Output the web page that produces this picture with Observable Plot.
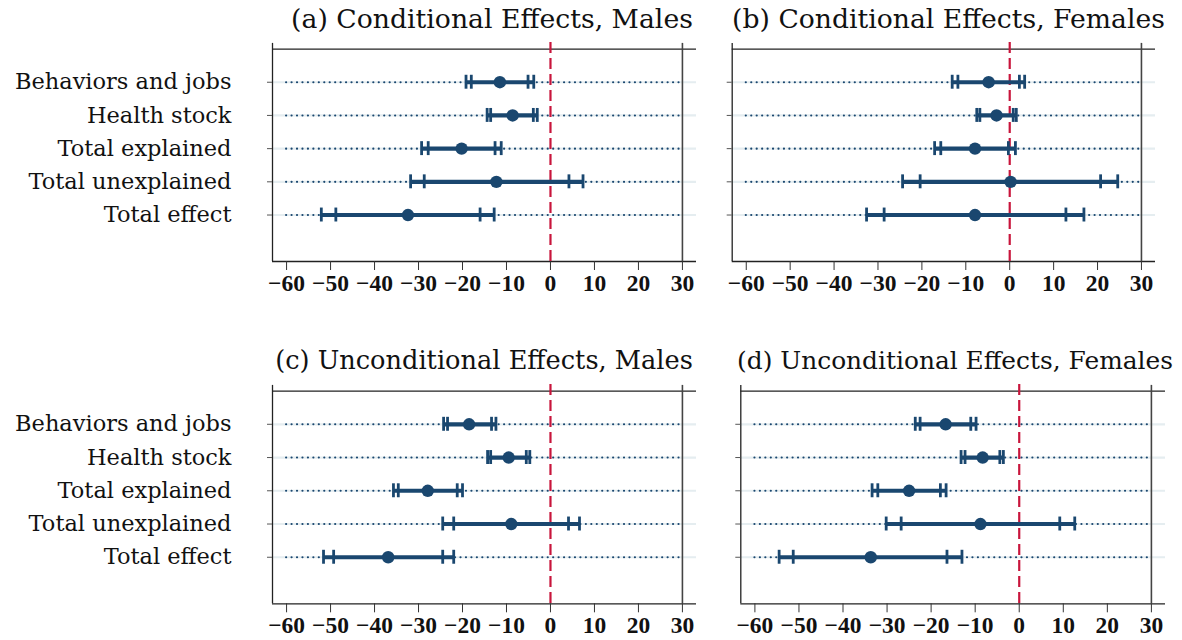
<!DOCTYPE html>
<html><head><meta charset="utf-8">
<script src="https://cdn.jsdelivr.net/npm/d3@7"></script>
<script src="https://cdn.jsdelivr.net/npm/@observablehq/plot@0.6"></script>
<style>
html,body{margin:0;padding:0;background:#fff;}
#root{position:relative;width:1182px;height:640px;overflow:hidden;background:#fff;}
#root svg{position:absolute;}
</style></head><body><div id="root"></div>
<script>
const categories = ["Behaviors and jobs", "Health stock", "Total explained", "Total unexplained", "Total effect"];
const xTicks = [-60, -50, -40, -30, -20, -10, 0, 10, 20, 30];
const titles = ["(a) Conditional Effects, Males", "(b) Conditional Effects, Females",
                "(c) Unconditional Effects, Males", "(d) Unconditional Effects, Females"];

// (a) Conditional, Males
const condMaleEst  = [-11.5, -8.6, -20.2, -12.3, -32.4];
const condMaleLo95 = [-19.2, -14.4, -29.3, -31.8, -52.1];
const condMaleLo90 = [-18.0, -13.6, -27.8, -28.7, -48.8];
const condMaleHi90 = [-5.1, -3.9, -12.6, 4.2, -16.0];
const condMaleHi95 = [-3.8, -3.0, -11.2, 7.4, -12.8];
// (b) Conditional, Females
const condFemEst  = [-4.8, -3.0, -7.9, 0.2, -7.9];
const condFemLo95 = [-13.1, -7.5, -17.1, -24.4, -32.6];
const condFemLo90 = [-11.8, -6.8, -15.7, -20.4, -28.6];
const condFemHi90 = [2.2, 0.8, -0.3, 20.7, 12.8];
const condFemHi95 = [3.4, 1.5, 1.3, 24.6, 16.9];
// (c) Unconditional, Males
const uncMaleEst  = [-18.5, -9.5, -27.9, -8.9, -36.9];
const uncMaleLo95 = [-24.3, -14.3, -35.7, -24.5, -51.6];
const uncMaleLo90 = [-23.4, -13.6, -34.6, -22.0, -49.3];
const uncMaleHi90 = [-13.4, -5.5, -21.2, 4.1, -24.5];
const uncMaleHi95 = [-12.4, -4.7, -20.0, 6.6, -22.0];
// (d) Unconditional, Females
const uncFemEst  = [-16.7, -8.3, -25.0, -8.8, -33.7];
const uncFemLo95 = [-23.6, -13.2, -33.4, -30.2, -54.5];
const uncFemLo90 = [-22.5, -12.3, -32.1, -26.8, -51.3];
const uncFemHi90 = [-11.0, -4.4, -17.9, 9.2, -16.4];
const uncFemHi95 = [-9.8, -3.6, -16.6, 12.6, -13.0];

const NAVY = "#1a476f", RED = "#c8153c", GRID = "#e5edf0", FRAME = "#222";
const xDom = [-63.2, 33.2];
const yDom = [-0.2, 6.4];

const panels = [
  {title: titles[0], est: condMaleEst, lo95: condMaleLo95, lo90: condMaleLo90, hi90: condMaleHi90, hi95: condMaleHi95,
   left: 0, top: 0, width: 700, height: 300, ml: 272, mr: 4, mt: 41.9, mb: 39, labels: true, tx: 492, ty: 28.3, tw: 402},
  {title: titles[1], est: condFemEst, lo95: condFemLo95, lo90: condFemLo90, hi90: condFemHi90, hi95: condFemHi95,
   left: 700, top: 0, width: 482, height: 300, ml: 31.7, mr: 27, mt: 41.9, mb: 39, labels: false, tx: 948.5, ty: 28.3, tw: 433},
  {title: titles[2], est: uncMaleEst, lo95: uncMaleLo95, lo90: uncMaleLo90, hi90: uncMaleHi90, hi95: uncMaleHi95,
   left: 0, top: 341.7, width: 700, height: 298.3, ml: 272, mr: 4, mt: 41.9, mb: 37, labels: true, tx: 484, ty: 369, tw: 418},
  {title: titles[3], est: uncFemEst, lo95: uncFemLo95, lo90: uncFemLo90, hi90: uncFemHi90, hi95: uncFemHi95,
   left: 700, top: 341.7, width: 482, height: 298.3, ml: 40.3, mr: 17, mt: 41.9, mb: 37, labels: false, tx: 955, ty: 369, tw: 436}
];

const root = document.getElementById("root");

for (const p of panels) {
  const rows = categories.map((c, i) => ({cat: c, row: i + 1, est: p.est[i], lo95: p.lo95[i], lo90: p.lo90[i], hi90: p.hi90[i], hi95: p.hi95[i]}));
  const caps = rows.flatMap(r => [r.lo95, r.lo90, r.hi90, r.hi95].map(v => ({row: r.row, v})));
  const svg = Plot.plot({
    width: p.width, height: p.height,
    marginLeft: p.ml, marginRight: p.mr, marginTop: p.mt, marginBottom: p.mb,
    x: {domain: xDom, axis: null},
    y: {domain: yDom, reverse: true, axis: null},
    style: {background: "transparent", overflow: "visible"},
    marks: [
      Plot.ruleY(rows, {y: "row", stroke: GRID, strokeWidth: 2.2}),
      Plot.ruleY(rows, {y: "row", x1: xTicks[0], x2: xTicks[xTicks.length - 1], stroke: NAVY, strokeWidth: 2.1, strokeDasharray: "0.1 5.35", strokeLinecap: "round"}),
      Plot.ruleY([yDom[0] + 0.2], {stroke: FRAME, strokeWidth: 1.3}),
      Plot.ruleY([yDom[1]], {stroke: FRAME, strokeWidth: 1.3}),
      Plot.ruleX([xDom[0]], {y1: yDom[0] + 0.03, y2: yDom[1], stroke: FRAME, strokeWidth: 1.3}),
      Plot.ruleX([xTicks[xTicks.length - 1]], {y1: yDom[0] + 0.03, y2: yDom[1], stroke: "#444", strokeWidth: 1.6}),
      Plot.ruleX([0], {y1: yDom[0], y2: yDom[1], stroke: RED, strokeWidth: 2.2, strokeDasharray: "11 5"}),
      Plot.ruleY(rows, {y: "row", x1: "lo95", x2: "hi95", stroke: NAVY, strokeWidth: 4.2}),
      Plot.ruleX(caps, {x: "v", y1: d => d.row - 0.21, y2: d => d.row + 0.21, stroke: NAVY, strokeWidth: 2.8}),
      Plot.dot(rows, {x: "est", y: "row", r: 6.2, fill: NAVY, stroke: "none"}),
      Plot.axisX({ticks: xTicks, anchor: "bottom", tickSize: 9, tickPadding: 4, label: null,
                  fontSize: 23.5, fontFamily: "Liberation Serif", fontWeight: "bold", stroke: "#333", fill: "#111"}),
      Plot.axisY({ticks: categories.map((c, i) => i + 1), anchor: "left", tickSize: 5, tickPadding: 36, label: null,
                  tickFormat: i => p.labels ? categories[i - 1] : "",
                  fontSize: 22.5, fontFamily: "DejaVu Serif", stroke: "#555", fill: "#111"})
    ]
  });
  svg.style.left = p.left + "px";
  svg.style.top = p.top + "px";
  root.appendChild(svg);
}

// titles: font size fitted so each title's natural width matches the reference width
const tsvg = d3.select(root).append("svg")
  .attr("width", 1182).attr("height", 640)
  .style("left", "0px").style("top", "0px").style("pointer-events", "none");
const base = 25;
tsvg.selectAll("text").data(panels).join("text")
  .attr("x", d => d.tx).attr("y", d => d.ty)
  .attr("text-anchor", "middle")
  .attr("font-family", "DejaVu Serif")
  .attr("font-size", base)
  .attr("fill", "#111")
  .text(d => d.title)
  .each(function(d) {
    const w = this.getComputedTextLength();
    if (w > 0) this.setAttribute("font-size", (base * d.tw / w).toFixed(2));
  });
</script>
</body></html>
